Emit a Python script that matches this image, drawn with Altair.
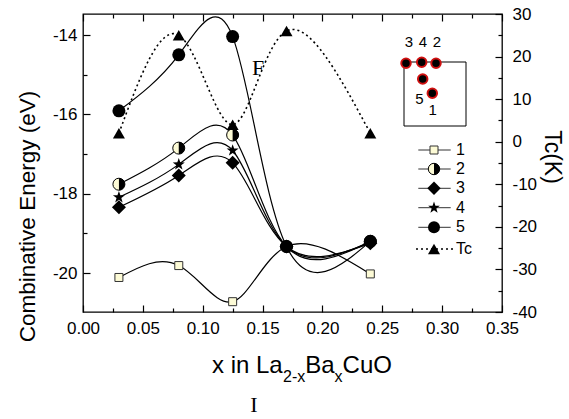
import altair as alt
import pandas as pd

# ---------------- data ----------------
x_vals = [0.03, 0.08, 0.125, 0.17, 0.24]
series_1 = [-20.11, -19.81, -20.72, -19.33, -20.02]
series_2 = [-17.76, -16.85, -16.52, -19.33, -19.20]
series_3 = [-18.34, -17.54, -17.22, -19.33, -19.25]
series_4 = [-18.09, -17.26, -16.91, -19.33, -19.22]
series_5 = [-15.91, -14.50, -14.04, -19.33, -19.20]
tc_vals = [2, 25, 4, 26, 2]
series_labels = ["1", "2", "3", "4", "5"]
legend_labels = ["1", "2", "3", "4", "5", "Tc"]

x_ticks = [0.0, 0.05, 0.10, 0.15, 0.20, 0.25, 0.30, 0.35]
x_minor = [0.025, 0.075, 0.125, 0.175, 0.225, 0.275, 0.325]
e_ticks = [-20, -18, -16, -14]
e_minor = [-19, -17, -15]
tc_ticks = [-40, -30, -20, -10, 0, 10, 20, 30]
tc_minor = [-35, -25, -15, -5, 5, 15, 25]

inset_top = ["3", "4", "2"]
inset_low = ["5", "1"]

# ---------------- tables ----------------
all_series = [series_1, series_2, series_3, series_4, series_5]
rows = []
for name, vals in zip(series_labels, all_series):
    for xv, ev in zip(x_vals, vals):
        rows.append({"x": xv, "E": ev, "series": name})
edf = pd.DataFrame(rows)
tdf = pd.DataFrame({"x": x_vals, "tc": tc_vals})
one = pd.DataFrame({"a": [0]})

W, H = 419, 298
FONT = "Liberation Sans"
LIGHT = "#fdfbd6"
STAR = ("M0,-1 L0.235,-0.324 L0.951,-0.309 L0.380,0.124 L0.588,0.809 "
        "L0,0.4 L-0.588,0.809 L-0.380,0.124 L-0.951,-0.309 L-0.235,-0.324 Z")
RIGHT_HALF = "M0,-1 A1,1 0 0,1 0,1 Z"
HYPHEN = "replace(format(datum.value, 'd'), '\u2212', '-')"

xs = alt.Scale(domain=[0, 0.35], nice=False, zero=False)
es = alt.Scale(domain=[-20.98, -13.47], nice=False, zero=False)
ts = alt.Scale(domain=[-40, 30], nice=False, zero=False)


def X(axis=None):
    return alt.X("x:Q", scale=xs, axis=axis)


def YE(axis=None):
    return alt.Y("E:Q", scale=es, axis=axis)


def YT(axis=None):
    return alt.Y("tc:Q", scale=ts, axis=axis)


def tick_axis(orient, values, size, offset):
    return alt.Axis(orient=orient, values=values, tickSize=size, offset=offset,
                    labels=False, domain=False, grid=False, title=None,
                    tickColor="black", tickWidth=1.2)


layers = []

# ---------------- curves ----------------
layers.append(alt.Chart(edf).mark_line(interpolate="natural", color="black", strokeWidth=1.2)
              .encode(X(), YE(), detail="series:N"))
layers.append(alt.Chart(tdf).mark_line(interpolate="natural", color="black", strokeWidth=1.6,
                                       strokeDash=[2, 3]).encode(X(), YT()))


def pts(s, **kw):
    return (alt.Chart(edf).transform_filter(alt.datum.series == s)
            .mark_point(filled=True, opacity=1, **kw).encode(X(), YE()))


layers.append(pts("1", shape="square", size=64, fill=LIGHT, stroke="#333333", strokeWidth=1))
layers.append(pts("2", shape="circle", size=144, fill=LIGHT, stroke="black", strokeWidth=1))
layers.append(pts("2", shape=RIGHT_HALF, size=144, fill="black", strokeWidth=0))
layers.append(pts("3", shape="diamond", size=196, fill="black", strokeWidth=0))
layers.append(pts("4", shape=STAR, size=160, fill="black", strokeWidth=0))
layers.append(pts("5", shape="circle", size=169, fill="black", strokeWidth=0))
layers.append(alt.Chart(tdf).mark_point(filled=True, opacity=1, shape="triangle-up", size=144,
                                        fill="black", strokeWidth=0).encode(X(), YT()))

# ---------------- axes ----------------
lab = dict(labelFontSize=17, labelFont=FONT, labelColor="black", ticks=False, tickSize=0,
           domain=False, grid=False, title=None, labelFlush=False, labelOverlap=False)
layers.append(alt.Chart(edf).mark_point(opacity=0).encode(
    X(alt.Axis(orient="bottom", values=x_ticks, format=".2f", labelPadding=8, **lab)),
    YE(alt.Axis(orient="left", values=e_ticks, labelExpr=HYPHEN, labelPadding=6, **lab))))
layers.append(alt.Chart(edf).mark_point(opacity=0).encode(
    X(tick_axis("top", x_ticks, 7, -H)), YE(tick_axis("right", e_ticks, 7, -W))))
layers.append(alt.Chart(edf).mark_point(opacity=0).encode(
    X(tick_axis("top", x_minor, 4, -H)), YE(tick_axis("right", e_minor, 4, -W))))
layers.append(alt.Chart(tdf).mark_point(opacity=0).encode(
    X(tick_axis("bottom", x_ticks, 7, -H)),
    YT(alt.Axis(orient="right", values=tc_ticks, labelExpr=HYPHEN, labelPadding=10,
                labelAlign="left", **lab))))
layers.append(alt.Chart(tdf).mark_point(opacity=0).encode(
    X(tick_axis("bottom", x_minor, 4, -H)), YT(tick_axis("left", tc_ticks, 7, -W))))
layers.append(alt.Chart(tdf).mark_point(opacity=0).encode(
    X(), YT(tick_axis("left", tc_minor, 4, -W))))


# ---------------- text helpers ----------------
def txt(text, x, y, size, font=FONT, align="left", baseline="alphabetic", angle=0):
    kw = {}
    if angle:
        kw["angle"] = angle
    return alt.Chart(one).mark_text(text=text, fontSize=size, font=font, align=align,
                                    baseline=baseline, color="black", **kw).encode(
        x=alt.value(x), y=alt.value(y))


# axis titles
layers.append(txt("x in La", 129, 358.7, 24))
layers.append(txt("2-x", 200, 367.7, 16))
layers.append(txt("Ba", 222.3, 358.7, 24))
layers.append(txt("x", 251.6, 367.7, 16))
layers.append(txt("CuO", 259.6, 358.7, 24))
layers.append(txt("Combinative Energy (eV)", -48, 202.5, 22.5, align="center", angle=270))
layers.append(txt("Tc(K)", 462, 143, 23, align="center", angle=90))
layers.append(txt("F", 169, 61, 22, font="Liberation Serif"))
layers.append(txt("I", 171, 398, 22, font="Liberation Serif", align="center"))

# ---------------- legend ----------------
leg_y = [136, 155, 174.3, 193.7, 213.3, 235]
sym_x = 351


def sym(y, **kw):
    return alt.Chart(one).mark_point(filled=True, opacity=1, **kw).encode(
        x=alt.value(sym_x), y=alt.value(y))


for lbl, y in zip(legend_labels, leg_y):
    if lbl == "Tc":
        layers.append(alt.Chart(one).mark_rule(color="black", strokeWidth=1.4, strokeDash=[2, 3])
                      .encode(x=alt.value(333), x2=alt.value(370), y=alt.value(y)))
    else:
        layers.append(alt.Chart(one).mark_rule(color="#333333", strokeWidth=1)
                      .encode(x=alt.value(335.3), x2=alt.value(367.7), y=alt.value(y)))
    layers.append(txt(lbl, 373, y, 16, baseline="middle"))

layers.append(sym(leg_y[0], shape="square", size=64, fill=LIGHT, stroke="#333333", strokeWidth=1))
layers.append(sym(leg_y[1], shape="circle", size=130, fill=LIGHT, stroke="black", strokeWidth=1))
layers.append(sym(leg_y[1], shape=RIGHT_HALF, size=130, fill="black", strokeWidth=0))
layers.append(sym(leg_y[2], shape="diamond", size=180, fill="black", strokeWidth=0))
layers.append(sym(leg_y[3], shape=STAR, size=150, fill="black", strokeWidth=0))
layers.append(sym(leg_y[4], shape="circle", size=144, fill="black", strokeWidth=0))
layers.append(sym(leg_y[5], shape="triangle-up", size=144, fill="black", strokeWidth=0))

# ---------------- inset ----------------
layers.append(alt.Chart(one).mark_rect(fill="transparent", stroke="black", strokeWidth=1).encode(
    x=alt.value(321), x2=alt.value(383), y=alt.value(48), y2=alt.value(112)))
for px, py in [(323, 49.3), (338.7, 48.3), (353, 49.3), (339.7, 65), (349.3, 79.3)]:
    layers.append(alt.Chart(one).mark_point(filled=True, opacity=1, shape="circle", size=90,
                                            fill="black", stroke="#d01010", strokeWidth=2)
                  .encode(x=alt.value(px), y=alt.value(py)))
for lbl, px in zip(inset_top, [326, 340, 354]):
    layers.append(txt(lbl, px, 28, 15, align="center", baseline="middle"))
for lbl, (px, py) in zip(inset_low, [(336.3, 85), (349.7, 96)]):
    layers.append(txt(lbl, px, py, 15, align="center", baseline="middle"))

chart = (alt.layer(*layers)
         .resolve_scale(y="independent")
         .resolve_axis(x="independent", y="independent")
         .properties(width=W, height=H,
                     autosize=alt.AutoSizeParams(type="none"),
                     padding={"left": 83, "top": 14, "right": 67, "bottom": 107},
                     background="white")
         .configure_view(stroke="black", strokeWidth=1.3))

chart.save("out.html", embed_options={"renderer": "svg", "actions": False})
